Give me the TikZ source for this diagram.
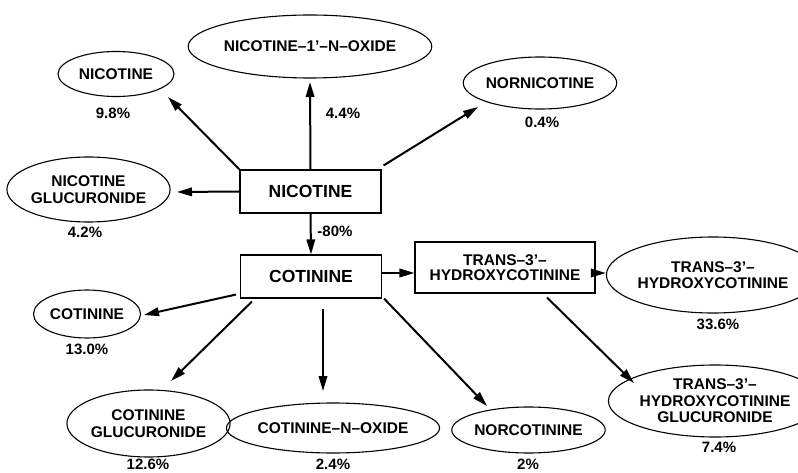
\documentclass[tikz,border=0pt]{standalone}
\usepackage{fontspec}
\setmainfont{Liberation Sans}
\usetikzlibrary{shapes.geometric,arrows.meta}
\tikzset{
  ell/.style={draw, line width=1.1pt, ellipse, inner sep=0pt, align=center,
    font=\bfseries\fontsize{15.5}{16.5}\selectfont},
  bx/.style={draw, line width=1.1pt, rectangle, inner sep=0pt, align=center},
  pct/.style={font=\bfseries\fontsize{15}{16}\selectfont, inner sep=0pt},
  arr/.style={line width=2pt, -{Triangle[length=15pt,width=8.5pt]}}
}
\begin{document}
\begin{tikzpicture}[x=1pt,y=-1pt]
\useasboundingbox (0,0) rectangle (798,473);
% boxes
\node[bx, minimum width=141pt, minimum height=43pt, font=\bfseries\fontsize{17.5}{18}\selectfont] (nicbox) at (310.5,191.5) {NICOTINE};
\node[bx, minimum width=141pt, minimum height=43pt, font=\bfseries\fontsize{17.5}{18}\selectfont] (cotbox) at (311,276.5) {COTININE};
\node[bx, minimum width=180pt, minimum height=51pt, font=\bfseries\fontsize{15.5}{15.5}\selectfont] (trbox) at (505,267.5) {TRANS--3'--\\HYDROXYCOTININE};
% ellipses
\node[ell, minimum width=116pt, minimum height=45pt] (e1) at (116,74) {NICOTINE};
\node[pct] (p1) at (113,113) {9.8\%};
\node[ell, minimum width=206pt, minimum height=63pt] (e2) at (310,46.5) {NICOTINE--1'--N--OXIDE};
\node[pct] (p2) at (343,113) {4.4\%};
\node[ell, minimum width=143pt, minimum height=52pt] (e3) at (540,83) {NORNICOTINE};
\node[pct] (p3) at (542,122) {0.4\%};
\node[ell, minimum width=154pt, minimum height=65pt] (e4) at (88.5,189.5) {NICOTINE\\GLUCURONIDE};
\node[pct] (p4) at (85,232) {4.2\%};
\node[pct] (p5) at (335,231) {-80\%};
\node[ell, minimum width=107pt, minimum height=48pt] (e5) at (87,314) {COTININE};
\node[pct] (p6) at (87,349) {13.0\%};
\node[ell, minimum width=161pt, minimum height=67pt] (e6) at (148.5,423.5) {COTININE\\GLUCURONIDE};
\node[pct] (p7) at (148,464) {12.6\%};
\node[ell, minimum width=166pt, minimum height=50pt] (e7) at (333,428) {COTININE--N--OXIDE};
\node[pct] (p8) at (333,464) {2.4\%};
\node[ell, minimum width=140pt, minimum height=46pt] (e8) at (528.5,430) {NORCOTININE};
\node[pct] (p9) at (528,464) {2\%};
\node[ell, minimum width=172pt, minimum height=76pt] (e9) at (713,275) {TRANS--3'--\\HYDROXYCOTININE};
\node[pct] (p10) at (718,324) {33.6\%};
\node[ell, minimum width=164pt, minimum height=72pt] (e10) at (715,401) {TRANS--3'--\\HYDROXYCOTININE\\GLUCURONIDE};
\node[pct] (p11) at (719,447) {7.4\%};
% arrow tips
\coordinate (t1) at (168,97);
\coordinate (t2) at (310,82);
\coordinate (t3) at (478,107);
\coordinate (t4) at (177,192);
\coordinate (t8) at (144,315);
\coordinate (t9) at (171,381);
\coordinate (t10) at (323,391);
\coordinate (t11) at (487,406);
\coordinate (t12) at (634,383);
% arrows
\draw[arr] (nicbox.north west) -- (t1);
\draw[arr] (nicbox.north) -- (t2);
\draw[arr] ([xshift=2pt,yshift=4pt]nicbox.north east) -- (t3);
\draw[arr] (nicbox.west) -- (t4);
\draw[arr] (nicbox.south) -- (cotbox.north);
\draw[arr] (cotbox.east |- 0,273) -- (trbox.west |- 0,273);
\draw[arr] (trbox.east |- 0,273) -- (e9.west |- 0,273);
\draw[arr] ([xshift=-4pt,yshift=4pt]cotbox.south west) -- (t8);
\draw[arr] ([xshift=12pt,yshift=-3pt]cotbox.south west) -- (t9);
\draw[arr] ([xshift=12pt,yshift=-10pt]cotbox.south) -- (t10);
\draw[arr] ([xshift=2pt]cotbox.south east) -- (t11);
\draw[arr] ([xshift=42pt,yshift=-4pt]trbox.south) -- (t12);
\end{tikzpicture}
\end{document}
